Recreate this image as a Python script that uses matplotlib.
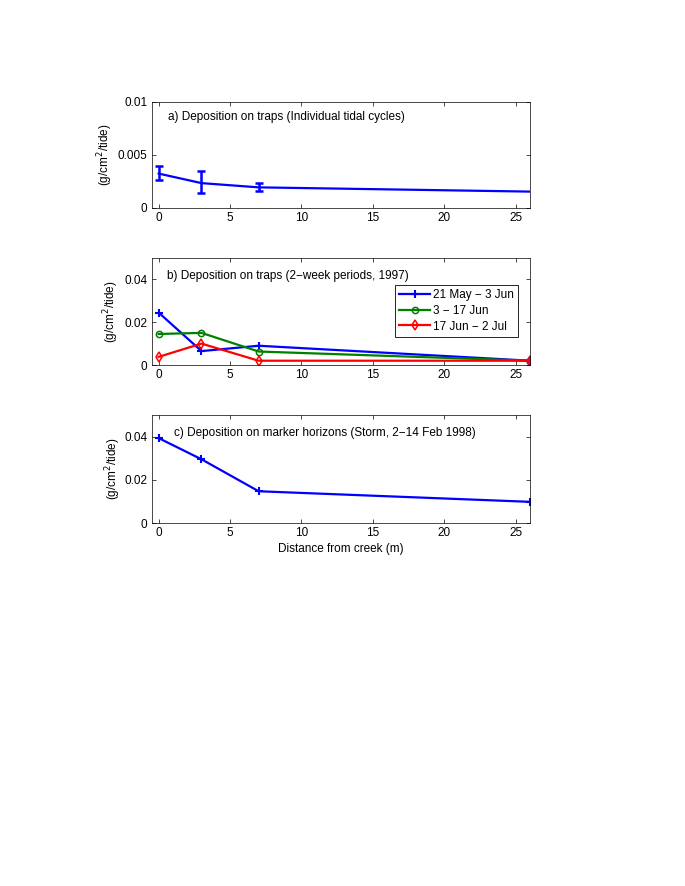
import matplotlib
matplotlib.use('Agg')
import matplotlib.pyplot as plt
import numpy as np

plt.rcParams['font.family'] = ['Liberation Sans', 'DejaVu Sans']
plt.rcParams['font.size'] = 8.5
plt.rcParams['xtick.direction'] = 'in'
plt.rcParams['ytick.direction'] = 'in'
plt.rcParams['xtick.top'] = True
plt.rcParams['ytick.right'] = True

# Distancia do canal (m)
dist = [0, 3, 7, 26]

# a) armadilhas, ciclos individuais
a_val = [0.0032, 0.0023, 0.0019, 0.0015]
a_lo = [0.0026, 0.0014, 0.0016, np.nan]
a_hi = [0.0039, 0.0034, 0.0023, np.nan]

# b) armadilhas, periodos de 2 semanas
b_labels = ['21 May \u2212 3 Jun', '3 \u2212 17 Jun', '17 Jun \u2212 2 Jul']
b_may = [0.0245, 0.0065, 0.0090, 0.0020]
b_jun = [0.0145, 0.0150, 0.0063, 0.0020]
b_jul = [0.0038, 0.0100, 0.0020, 0.0020]

# c) horizontes marcadores (tempestade)
c_val = [0.0393, 0.0295, 0.0147, 0.0098]

W, H = 685, 886
fig = plt.figure(figsize=(W / 100, H / 100), dpi=100)

def eixo(top, bottom):
    left, right = 151.5, 530
    return fig.add_axes([left / W, 1 - bottom / H, (right - left) / W, (bottom - top) / H])

ylab = '(g/cm$^2$/tide)'
lw = 1.6

# painel a
ax1 = eixo(101.5, 207.5)
x_err = [d for d, lo in zip(dist, a_lo) if not np.isnan(lo)]
v_err = [v for v, lo in zip(a_val, a_lo) if not np.isnan(lo)]
lo_err = [v - lo for v, lo in zip(a_val, a_lo) if not np.isnan(lo)]
hi_err = [hi - v for v, hi in zip(a_val, a_hi) if not np.isnan(hi)]
ax1.plot(dist, a_val, color='#0000ff', lw=lw)
ax1.errorbar(x_err, v_err, yerr=[lo_err, hi_err], fmt='none', ecolor='#0000ff',
             elinewidth=1.8, capsize=3, capthick=1.8)
ax1.set_ylim(0, 0.01)
ax1.set_yticks([0, 0.005, 0.01])
ax1.set_yticklabels(['0', '0.005', '0.01'])
ax1.text(0.044, 0.857, 'a) Deposition on traps (Individual tidal cycles)', va='center', transform=ax1.transAxes)

# painel b
ax2 = eixo(258, 365)
ax2.plot(dist, b_may, color='#0000ff', lw=lw, marker='+', ms=6, mew=1.5, label=b_labels[0])
ax2.plot(dist, b_jun, color='#008000', lw=lw, marker='o', ms=4.5, mfc='none', mew=1.1, label=b_labels[1])
ax2.plot(dist, b_jul, color='#ff0000', lw=lw, marker='d', ms=5.5, mfc='none', mew=1.1, label=b_labels[2])
# ponto final sobreposto (aparece cheio na figura)
ax2.plot(dist[-1:], b_jul[-1:], color='#d0103a', marker='o', ms=5, ls='none')
ax2.set_ylim(0, 0.05)
ax2.set_yticks([0, 0.02, 0.04])
ax2.set_yticklabels(['0', '0.02', '0.04'])
ax2.text(0.041, 0.832, 'b) Deposition on traps (2\u2212week periods, 1997)', va='center', transform=ax2.transAxes)
leg = ax2.legend(loc='upper right', bbox_to_anchor=(0.968, 0.745), fancybox=False, framealpha=1,
                 edgecolor='black', borderpad=0.35, labelspacing=0.3, handlelength=2.6,
                 handletextpad=0.25, borderaxespad=0)
leg.get_frame().set_linewidth(0.6)

# painel c
ax3 = eixo(415, 523)
ax3.plot(dist, c_val, color='#0000ff', lw=lw, marker='+', ms=6, mew=1.5)
ax3.set_ylim(0, 0.05)
ax3.set_yticks([0, 0.02, 0.04])
ax3.set_yticklabels(['0', '0.02', '0.04'])
ax3.text(0.059, 0.833, 'c) Deposition on marker horizons (Storm, 2\u221214 Feb 1998)', va='center', transform=ax3.transAxes)
ax3.set_xlabel('Distance from creek (m)', labelpad=3)

for ax, lx in ((ax1, -0.096), (ax2, -0.081), (ax3, -0.075)):
    ax.set_xlim(-0.5, 26)
    ax.set_xticks([0, 5, 10, 15, 20, 25])
    ax.set_ylabel(ylab)
    ax.yaxis.set_label_coords(lx, 0.5)
    ax.tick_params(length=3, width=0.5, labelsize=8.5, pad=3)
    for s in ax.spines.values():
        s.set_linewidth(0.5)

fig.savefig('out.png', dpi=100)
